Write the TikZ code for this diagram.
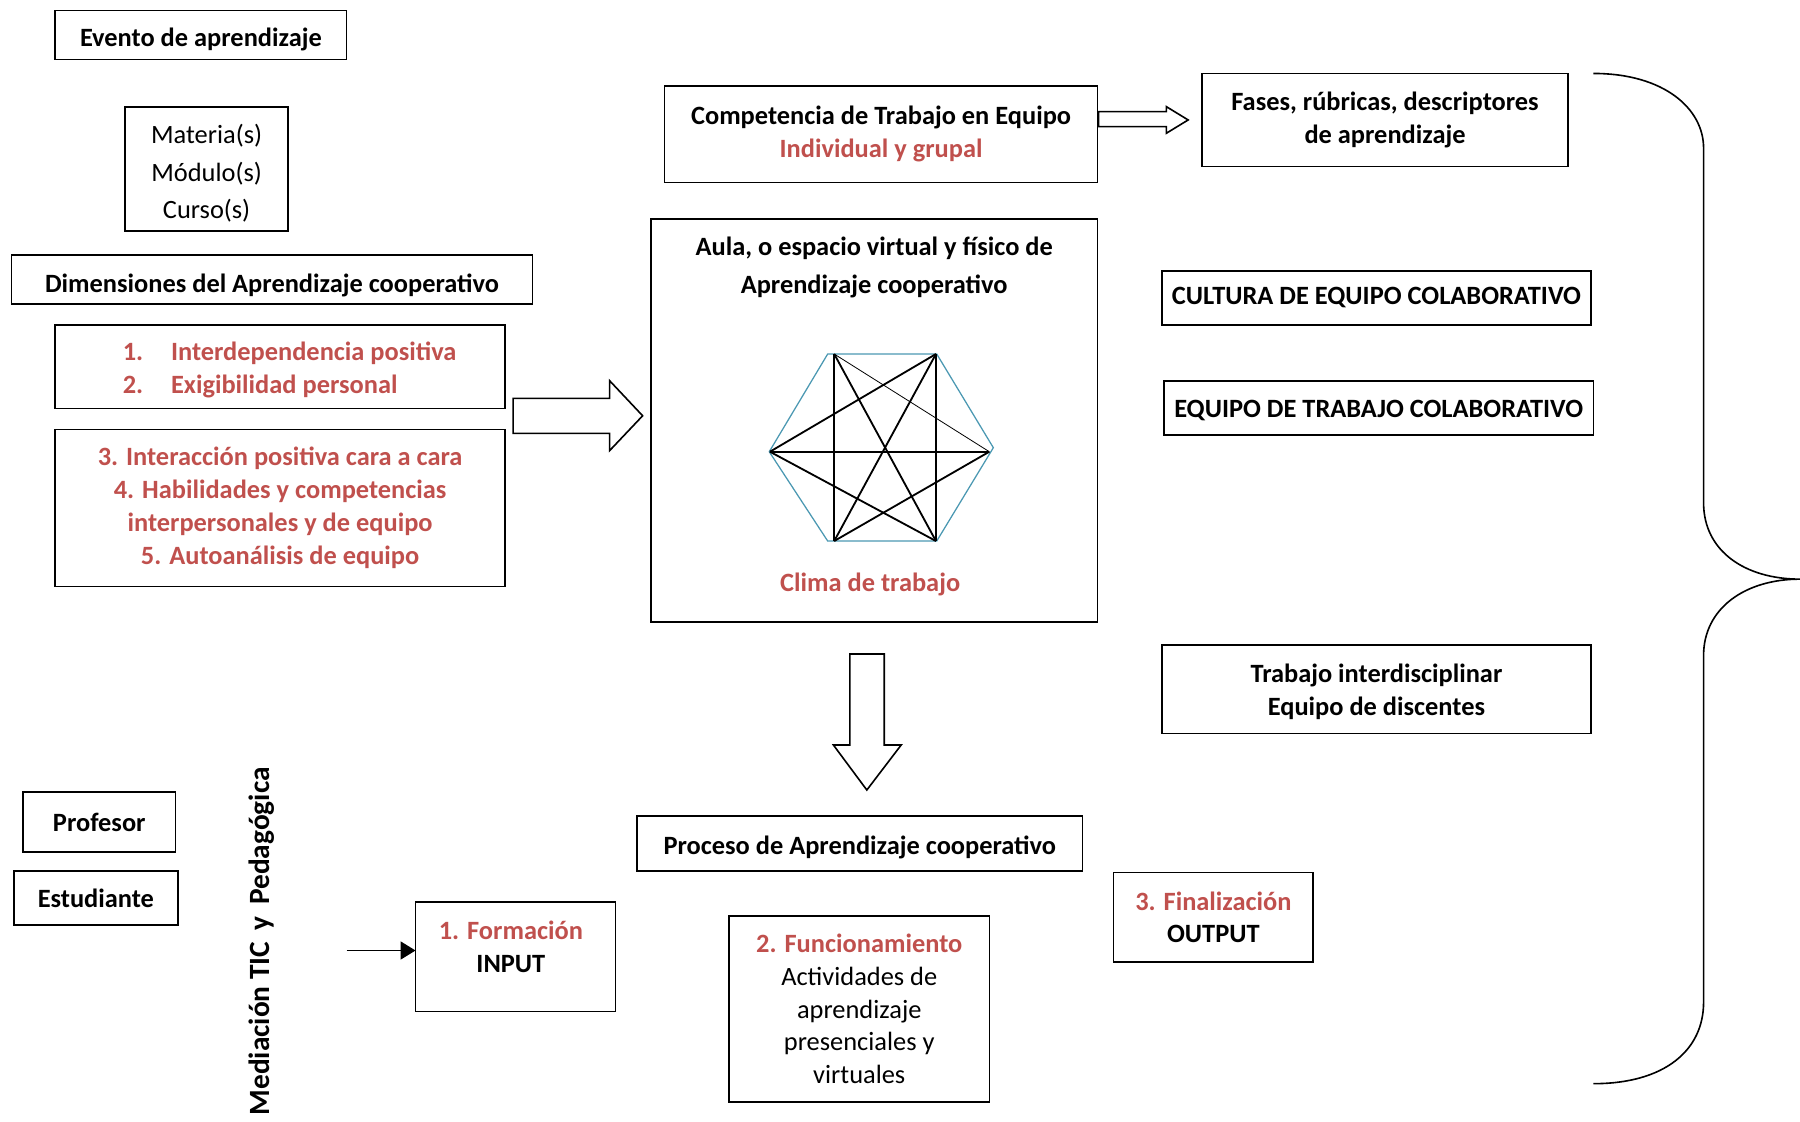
\documentclass[tikz,border=0pt]{standalone}
\usepackage{fontspec}
\setmainfont{Carlito}
\usetikzlibrary{arrows.meta}
\definecolor{accred}{RGB}{192,80,77}
\definecolor{hexblue}{RGB}{75,152,178}
\newcommand\txtsz{\fontsize{11.5}{14.25}\selectfont}
\newcommand\txtszwide{\fontsize{11.5}{16.4}\selectfont}
% framed box from its corners, with its text centred inside:
% name, text style, x1, y1, x2, y2, text
\newcommand\mkbox[7]{%
  \node[box,minimum width={(#5-#3)*0.5pt},minimum height={(#6-#4)*0.5pt}]
    (#1) at ({(#3+#5)/2},{(#4+#6)/2}) {};
  \node[align=center,#2] (#1-text) at (#1.center) {#7};}

\begin{document}
\begin{tikzpicture}[x=0.5pt,y=-0.5pt,
  every node/.style={inner sep=0pt, outer sep=0pt},
  box/.style={draw, line width=0.7pt},
  bt/.style={font=\txtsz\bfseries, align=center},
  rt/.style={font=\txtsz, align=center},
  blockarrow/.style={draw, line width=0.7pt, fill=white, line join=miter},
  hexedge/.style={draw=hexblue, line width=0.55pt},
  thickspoke/.style={draw=black, line width=0.8pt},
  thinspoke/.style={draw=black, line width=0.35pt},
]
\useasboundingbox (0,0) rectangle (1568,977);

% ---- left column ----
\mkbox{evento}{bt, yshift=-2pt}{48}{9}{302}{52}{Evento de aprendizaje}
\mkbox{materia}{font=\txtszwide, yshift=-2pt}{109}{93}{251}{201}{Materia(s)\\Módulo(s)\\Curso(s)}
\mkbox{dimensiones}{bt, yshift=-2.5pt}{10}{222}{464}{265}{Dimensiones del Aprendizaje cooperativo}
\mkbox{dimA}{}{48}{283}{440}{356}{}
\node[bt, text=accred, align=left, anchor=west] (dimAtext) at (107,322)
  {\makebox[21pt][l]{1.}Interdependencia positiva\\\makebox[21pt][l]{2.}Exigibilidad personal};
\mkbox{dimB}{text=accred, font=\fontsize{11.5}{14.35}\selectfont\bfseries}{48}{374}{440}{511}
  {3. Interacción positiva cara a cara\\4. Habilidades y competencias\\interpersonales y de equipo\\5. Autoanálisis de equipo}

% ---- centre column ----
\mkbox{competencia}{bt}{579}{75}{956}{159}
  {Competencia de Trabajo en Equipo\\\textcolor{accred}{Individual y grupal}}
\mkbox{fases}{bt}{1047}{64}{1366}{145}{Fases, rúbricas, descriptores\\de aprendizaje}
\mkbox{aula}{}{567}{191}{956}{542}{}
\node[font=\txtszwide\bfseries, align=center] (aulatitle) at (761.5,233)
  {Aula, o espacio virtual y físico de\\Aprendizaje cooperativo};
\node[bt, text=accred] (clima) at (758,509) {Clima de trabajo};

% hexagon of the team
\coordinate (hTL) at (721,308.4);
\coordinate (hTR) at (816,308.4);
\coordinate (hR)  at (865.3,390);
\coordinate (hBR) at (816,471.3);
\coordinate (hBL) at (721,471.3);
\coordinate (hL)  at (670.1,393.5);
\draw[hexedge] (hTL) -- (hTR) -- (hR) -- (hBR) -- (hBL) -- (hL) -- cycle;
\coordinate (pA) at (726.7,308.4);
\coordinate (pB) at (815.3,308.4);
\coordinate (pC) at (861.8,393.5);
\coordinate (pD) at (815.3,471.3);
\coordinate (pE) at (726.7,471.3);
\coordinate (pF) at (670.7,393.5);
\draw[thickspoke] (pA) -- (pE);
\draw[thickspoke] (pB) -- (pD);
\draw[thickspoke] (pF) -- (pC);
\draw[thickspoke] (pF) -- (pB);
\draw[thickspoke] (pF) -- (pD);
\draw[thickspoke] (pC) -- (pE);
\draw[thickspoke] (pA) -- (pD);
\draw[thickspoke] (pB) -- (pE);
\draw[thinspoke]  (pA) -- (pC);

% ---- right column ----
\mkbox{cultura}{bt}{1012}{236}{1386}{283}{CULTURA DE EQUIPO COLABORATIVO}
\mkbox{equipo}{bt, yshift=-1pt}{1014}{332}{1388}{379}{EQUIPO DE TRABAJO COLABORATIVO}
\mkbox{interdisc}{bt, yshift=-1pt}{1012}{562}{1386}{639}{Trabajo interdisciplinar\\Equipo de discentes}

% ---- process ----
\mkbox{proceso}{bt, yshift=-1.5pt}{555}{711}{943}{759}{Proceso de Aprendizaje cooperativo}
\mkbox{formacion}{}{362}{786}{536}{881}{}
\node[bt] (formaciontext) at (445,825) {\textcolor{accred}{1. Formación}\\INPUT};
\mkbox{funcionamiento}{rt}{635}{798}{862}{960}
  {\textcolor{accred}{\bfseries 2. Funcionamiento}\\Actividades de\\aprendizaje\\presenciales y\\virtuales}
\mkbox{finalizacion}{bt}{970}{760}{1144}{838}{\textcolor{accred}{3. Finalización}\\OUTPUT}

% ---- actors ----
\mkbox{profesor}{bt}{20}{690}{153}{742}{Profesor}
\mkbox{estudiante}{bt}{12}{759}{155}{806}{Estudiante}
\node[font=\fontsize{12.8}{15}\selectfont\bfseries, rotate=90] (mediacion) at (228,820)
  {Mediación TIC\hspace{5pt}y\hspace{5pt}Pedagógica};

% input arrow
\coordinate (inputstart) at (302,828);
\draw[line width=0.7pt, -{Triangle[length=6.5pt,width=7.8pt]}]
  (inputstart) -- (inputstart -| formacion.west);

% block arrows
\draw[blockarrow] (447,347) -- (531,347) -- (531,331.6) -- (559.8,362.2)
  -- (531,392.6) -- (531,377.5) -- (447,377.5) -- cycle;
\draw[blockarrow] (957,97.3) -- (1016,97.3) -- (1016,92.9) -- (1035,104.5)
  -- (1016,116.1) -- (1016,110.3) -- (957,110.3) -- cycle;
\draw[blockarrow] (740.3,569.7) -- (770.3,569.7) -- (770.3,649) -- (785,649)
  -- (755.1,688.2) -- (726,649) -- (740.3,649) -- cycle;

% closing brace
\draw[line width=0.7pt] (1388,64) .. controls (1450,64) and (1484,95) .. (1484,129)
  -- (1484,438) .. controls (1484,480) and (1520,504.5) .. (1568,504.5)
  .. controls (1520,504.5) and (1484,530) .. (1484,571)
  -- (1484,873) .. controls (1484,915) and (1450,944) .. (1388,944);
\end{tikzpicture}
\end{document}
